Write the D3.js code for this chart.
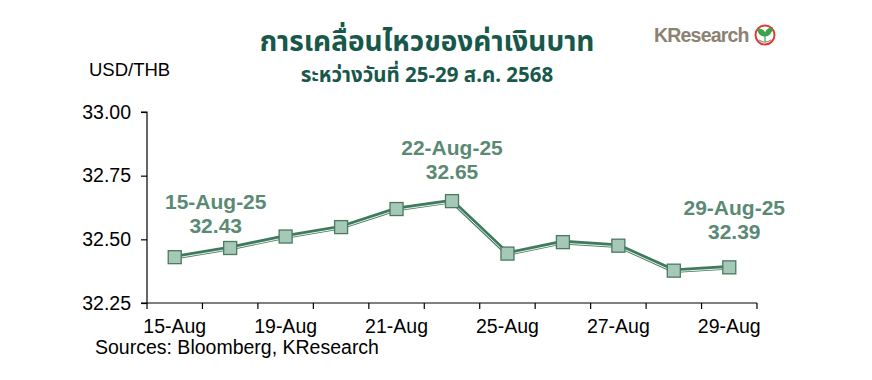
<!DOCTYPE html>
<html>
<head>
<meta charset="utf-8">
<script src="https://cdn.jsdelivr.net/npm/d3@7"></script>
<style>
  body { margin: 0; background: #fff; }
  svg text { font-family: "Liberation Sans", Arial, sans-serif; }
</style>
</head>
<body>
<script>
// data
var dates = ['15-Aug', '18-Aug', '19-Aug', '20-Aug', '21-Aug', '22-Aug', '25-Aug', '26-Aug', '27-Aug', '28-Aug', '29-Aug']
var rates = [32.43, 32.466, 32.511, 32.548, 32.619, 32.65, 32.444, 32.489, 32.475, 32.377, 32.39]
var yTicks = [32.25, 32.5, 32.75, 33.0]
var shownLabels = ['15-Aug', '19-Aug', '21-Aug', '25-Aug', '27-Aug', '29-Aug']
var callouts = [
  { date: '15-Aug', label: '15-Aug-25', value: '32.43' },
  { date: '22-Aug', label: '22-Aug-25', value: '32.65' },
  { date: '29-Aug', label: '29-Aug-25', value: '32.39' }
]

var width = 872, height = 380
var pLeft = 147, pRight = 757, pTop = 112, pBottom = 303

var svg = d3.select('body')
            .append('svg')
            .attr('width', width)
            .attr('height', height)

var xscale = d3.scaleBand()
               .domain(dates)
               .range([pLeft, pRight])

var yscale = d3.scaleLinear()
               .domain([32.25, 33.0])
               .range([pBottom, pTop])

var cx = d => xscale(d) + xscale.bandwidth() / 2

// y axis
var yAxis = svg.append('g')
               .attr('transform', 'translate(' + pLeft + ',0)')
               .call(d3.axisLeft(yscale).tickValues(yTicks).tickFormat(d3.format('.2f')).tickSize(6).tickPadding(10))
yAxis.select('.domain').attr('d', 'M-6,' + pTop + 'H0V' + pBottom + 'H-6').attr('stroke', '#000').attr('stroke-width', 1.2)
yAxis.selectAll('line').attr('stroke', '#000').attr('stroke-width', 1.2)
yAxis.selectAll('text').attr('font-size', 19.5).attr('fill', '#000').attr('font-family', '"Liberation Sans", Arial, sans-serif')

// x axis: ticks on band edges, labels every other date
var xAxis = svg.append('g').attr('transform', 'translate(0,' + pBottom + ')')
xAxis.append('line')
     .attr('x1', pLeft).attr('x2', pRight)
     .attr('stroke', '#000').attr('stroke-width', 1.2)
var edges = dates.map(d => xscale(d)).concat([pRight])
xAxis.selectAll('.tk').data(edges).enter().append('line')
     .attr('x1', d => d).attr('x2', d => d)
     .attr('y1', 0).attr('y2', 6)
     .attr('stroke', '#000').attr('stroke-width', 1.2)
xAxis.selectAll('.lb').data(shownLabels).enter().append('text')
     .attr('x', d => cx(d))
     .attr('y', 30)
     .attr('text-anchor', 'middle')
     .attr('font-size', 19.5)
     .text(d => d)

// line: dark green with a thin light stripe
var line = d3.line().x((d, i) => cx(dates[i])).y(d => yscale(d))
svg.append('path').datum(rates)
   .attr('d', line).attr('fill', 'none')
   .attr('stroke', '#3f7a5f').attr('stroke-width', 4.5)
svg.append('path').datum(rates)
   .attr('d', line).attr('fill', 'none')
   .attr('transform', 'translate(0,1)')
   .attr('stroke', '#e8f0ec').attr('stroke-width', 1)

// markers
svg.selectAll('.mk').data(rates).enter().append('rect')
   .attr('x', (d, i) => cx(dates[i]) - 6.5)
   .attr('y', d => yscale(d) - 6.5)
   .attr('width', 13).attr('height', 13)
   .attr('fill', '#a5c8b7').attr('stroke', '#4a7a63').attr('stroke-width', 1.3)

// callouts
callouts.forEach(function(c) {
  var i = dates.indexOf(c.date)
  var x = cx(c.date) + (i === 0 ? 41 : (i === 10 ? 5 : 0))
  var y = yscale(rates[i])
  var off = i === 0 ? 48 : (i === 10 ? 52 : 46)
  var g = svg.append('g').attr('fill', '#5b8a74').attr('font-weight', 'bold').attr('font-size', 21).attr('text-anchor', 'middle')
  g.append('text').attr('x', x).attr('y', y - off).text(c.label)
  g.append('text').attr('x', x).attr('y', y - off + 24).text(c.value)
})

// titles
svg.append('text')
   .attr('x', 427).attr('y', 51)
   .attr('text-anchor', 'middle')
   .attr('font-size', 28).attr('font-weight', 'bold')
   .attr('fill', '#17584a')
   .style('font-family', '"Noto Sans", "Noto Sans Thai", sans-serif')
   .text('การเคลื่อนไหวของค่าเงินบาท')
svg.append('text')
   .attr('x', 427).attr('y', 82)
   .attr('text-anchor', 'middle')
   .attr('font-size', 20.5).attr('font-weight', 'bold')
   .attr('fill', '#17584a')
   .style('font-family', '"Noto Sans", "Noto Sans Thai", sans-serif')
   .text('ระหว่างวันที่ 25-29 ส.ค. 2568')

svg.append('text').attr('x', 89).attr('y', 76).attr('font-size', 18.5).text('USD/THB')
svg.append('text').attr('x', 95).attr('y', 354).attr('font-size', 19.5).text('Sources: Bloomberg, KResearch')

// logo
var logo = svg.append('g')
logo.append('text').attr('x', 654).attr('y', 42)
    .attr('font-size', 19.5).attr('font-weight', 'bold')
    .attr('fill', '#8b8273').attr('letter-spacing', -0.8)
    .text('KResearch')
logo.append('circle').attr('cx', 765).attr('cy', 35).attr('r', 9.5)
    .attr('fill', '#fff').attr('stroke', '#e03a2f').attr('stroke-width', 2)
logo.append('path').attr('d', 'M765,42 V36 M765,36 C760,36 758,32 758,29 C762,29 765,31 765,36 C765,31 768,28 772,28 C772,32 769,36 765,36')
    .attr('fill', '#3aa34a').attr('stroke', '#3aa34a').attr('stroke-width', 1.2)
logo.append('path').attr('d', 'M759,40 Q765,44 771,40').attr('fill', 'none').attr('stroke', '#999').attr('stroke-width', 1.5)
</script>
</body>
</html>
